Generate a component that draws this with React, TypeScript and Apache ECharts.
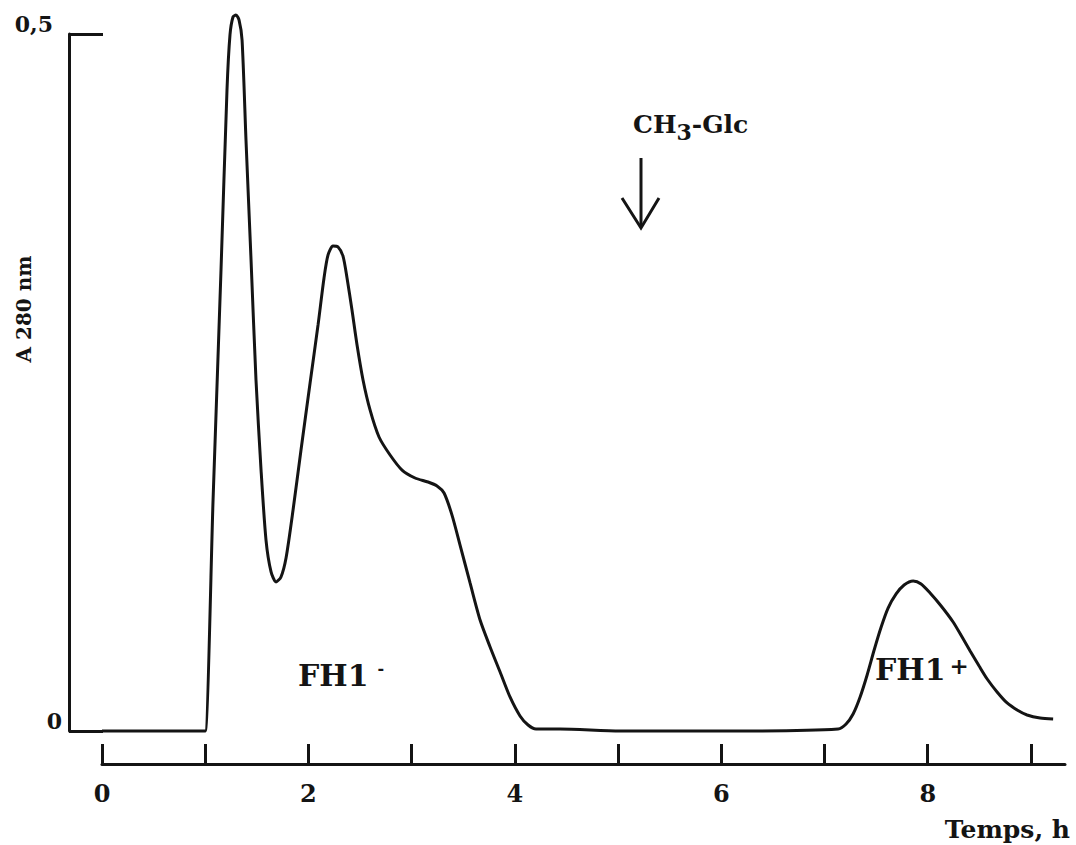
import React, { useEffect, useRef } from "react";
import * as echarts from "echarts";

// Elution profile (time in hours, absorbance at 280 nm)
const timeH = [
  0, 0.97, 1.0, 1.076, 1.153, 1.211, 1.24, 1.269, 1.298, 1.328, 1.357, 1.395,
  1.444, 1.492, 1.541, 1.589, 1.638, 1.686, 1.734, 1.783, 1.851, 1.928, 2.016,
  2.093, 2.151, 2.19, 2.238, 2.287, 2.335, 2.374, 2.422, 2.471, 2.529, 2.597,
  2.684, 2.791, 2.907, 3.033, 3.159, 3.246, 3.314, 3.391, 3.469, 3.566, 3.663,
  3.76, 3.857, 3.953, 4.05, 4.128, 4.205, 4.438, 5.019, 6.182, 7.132, 7.209,
  7.277, 7.345, 7.413, 7.481, 7.549, 7.616, 7.694, 7.771, 7.859, 7.936, 8.023,
  8.13, 8.246, 8.333, 8.411, 8.498, 8.576, 8.672, 8.769, 8.866, 8.963, 9.089,
  9.215,
];
const absorbance = [
  0, 0, 0, 0.1657, 0.3307, 0.4598, 0.4993, 0.5122, 0.5136, 0.51, 0.4957, 0.424,
  0.3379, 0.2518, 0.1872, 0.137, 0.1141, 0.1069, 0.1105, 0.1241, 0.1585,
  0.2016, 0.2496, 0.2912, 0.325, 0.3415, 0.3479, 0.3472, 0.3407, 0.325, 0.302,
  0.2769, 0.2518, 0.2303, 0.2109, 0.198, 0.1872, 0.1815, 0.1786, 0.1758,
  0.1707, 0.1549, 0.1334, 0.1062, 0.0796, 0.0603, 0.0423, 0.0244, 0.0108,
  0.0043, 0.0014, 0.0014, 0, 0, 0.0014, 0.005, 0.0122, 0.0244, 0.0402, 0.0581,
  0.0746, 0.0882, 0.0983, 0.1047, 0.1076, 0.1055, 0.099, 0.0897, 0.0782,
  0.0674, 0.0574, 0.0466, 0.0373, 0.028, 0.0201, 0.0151, 0.0115, 0.0093, 0.0086,
];
const xTickValues = [0, 1, 2, 3, 4, 5, 6, 7, 8, 9];
const xLabelValues = [0, 2, 4, 6, 8];
const yTickValues = [0, 0.5];

const INK = "#141414";
const FONT = "DejaVu Serif";

export default function App() {
  const ref = useRef<HTMLDivElement>(null);

  useEffect(() => {
    if (!ref.current) return;
    const chart = echarts.init(ref.current, null, { renderer: "svg" });
    const data = timeH.map((t, i) => [t, absorbance[i]]);

    chart.setOption({
      animation: false,
      backgroundColor: "#ffffff",
      grid: { left: 102, right: 11, top: 34, bottom: 114 },
      xAxis: {
        type: "value",
        min: 0,
        max: 9.33,
        interval: 1,
        offset: 33,
        axisLine: { show: true, onZero: false, lineStyle: { color: INK, width: 3 } },
        axisTick: {
          show: true,
          inside: true,
          length: 20,
          customValues: xTickValues,
          lineStyle: { color: INK, width: 3 },
        },
        axisLabel: {
          customValues: xLabelValues,
          margin: 17,
          color: INK,
          fontFamily: FONT,
          fontWeight: "bold",
          fontSize: 24,
          formatter: (v: number) => String(v),
        },
        splitLine: { show: false },
      },
      yAxis: {
        type: "value",
        min: 0,
        max: 0.5,
        interval: 0.5,
        offset: 33,
        axisLine: { show: true, onZero: false, lineStyle: { color: INK, width: 3 } },
        axisTick: {
          show: true,
          inside: true,
          length: 34,
          customValues: yTickValues,
          lineStyle: { color: INK, width: 3 },
        },
        axisLabel: {
          customValues: yTickValues,
          margin: 7,
          color: INK,
          fontFamily: FONT,
          fontWeight: "bold",
          fontSize: 21,
          formatter: (v: number) => (v > 0.25 ? "{a|0,5}" : "{b|0}"),
          rich: {
            a: { fontFamily: FONT, fontWeight: "bold", fontSize: 22, color: INK, padding: [0, 9, 20, 0] },
            b: { fontFamily: FONT, fontWeight: "bold", fontSize: 22, color: INK, padding: [0, 0, 20, 0] },
          },
        },
        splitLine: { show: false },
      },
      series: [
        {
          type: "line",
          data,
          smooth: 0.25,
          symbol: "none",
          clip: false,
          lineStyle: { color: INK, width: 3 },
        },
      ],
      graphic: [
        {
          type: "text",
          x: 24,
          y: 309,
          rotation: Math.PI / 2,
          style: {
            text: "A 280 nm",
            fill: INK,
            font: `bold 20px "${FONT}"`,
            align: "center",
            verticalAlign: "middle",
          },
        },
        {
          type: "text",
          x: 1070,
          y: 829,
          style: {
            text: "Temps, h",
            fill: INK,
            font: `bold 25px "${FONT}"`,
            align: "right",
            verticalAlign: "middle",
          },
        },
        {
          type: "text",
          x: 633,
          y: 127,
          style: {
            text: "{n|CH}{s|3}{n|-Glc}",
            fill: INK,
            align: "left",
            verticalAlign: "middle",
            rich: {
              n: { fontFamily: FONT, fontWeight: "bold", fontSize: 25, lineHeight: 25, verticalAlign: "top", fill: INK },
              s: { fontFamily: FONT, fontWeight: "bold", fontSize: 22, lineHeight: 31, verticalAlign: "bottom", fill: INK },
            },
          },
        },
        {
          type: "line",
          shape: { x1: 641, y1: 158, x2: 641, y2: 226 },
          style: { stroke: INK, lineWidth: 3 },
        },
        {
          type: "polyline",
          shape: { points: [[622, 198], [641, 228], [659, 198]] },
          style: { stroke: INK, lineWidth: 3, fill: null },
        },
        {
          type: "text",
          x: 298,
          y: 675,
          style: {
            text: "{n|FH1}{m|-}",
            fill: INK,
            align: "left",
            verticalAlign: "middle",
            rich: {
              n: { fontFamily: FONT, fontWeight: "bold", fontSize: 30, lineHeight: 30, verticalAlign: "bottom", fill: INK },
              m: { fontFamily: FONT, fontWeight: "bold", fontSize: 16, lineHeight: 14, verticalAlign: "top", padding: [0, 0, 0, 9], fill: INK },
            },
          },
        },
        {
          type: "text",
          x: 875,
          y: 669,
          style: {
            text: "{n|FH1}{p|+}",
            fill: INK,
            align: "left",
            verticalAlign: "middle",
            rich: {
              n: { fontFamily: FONT, fontWeight: "bold", fontSize: 30, lineHeight: 30, verticalAlign: "bottom", fill: INK },
              p: { fontFamily: FONT, fontWeight: "bold", fontSize: 23, lineHeight: 19, verticalAlign: "top", padding: [0, 0, 0, 4], fill: INK },
            },
          },
        },
      ],
    });

    return () => chart.dispose();
  }, []);

  return (
    <div
      ref={ref}
      style={{ position: "absolute", left: 0, top: 0, width: 1076, height: 845, background: "#fff" }}
    />
  );
}
